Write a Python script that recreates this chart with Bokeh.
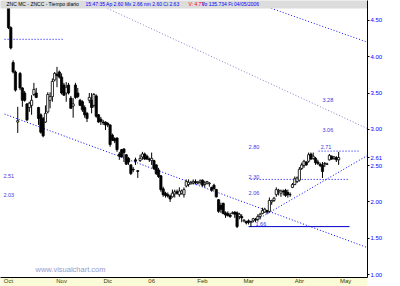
from bokeh.plotting import figure
from bokeh.models import (Range1d, FixedTicker, Label, NumeralTickFormatter,
                          ColumnDataSource)
from bokeh.embed import file_html
from bokeh.resources import INLINE

# ---- daily OHLC (ZNC MC, Oct 2005 - May 2006) ----
open_ = [
    4.70, 4.40, 3.92, 3.79, 3.10, 3.77, 3.57, 3.50, 3.35, 3.30,
    3.33, 3.48, 3.50, 3.30, 3.20, 3.15, 3.10, 3.24, 3.40, 3.45,
    3.68, 3.76, 3.79, 3.72, 3.61, 3.50, 3.61, 3.43, 3.32, 3.61,
    3.50, 3.40, 3.38, 3.30, 3.22, 3.40, 3.40, 3.33, 3.46, 3.20,
    3.14, 3.10, 3.10, 3.08, 3.06, 2.92, 2.87, 2.88, 2.66, 2.72,
    2.73, 2.65, 2.60, 2.51, 2.45, 2.58, 2.43, 2.57, 2.62, 2.66,
    2.63, 2.59, 2.57, 2.57, 2.51, 2.44, 2.36, 2.18, 2.12, 2.10,
    2.08, 2.07, 2.11, 2.14, 2.10, 2.12, 2.10, 2.22, 2.24, 2.25,
    2.26, 2.28, 2.26, 2.27, 2.30, 2.24, 2.26, 2.25, 2.20, 2.23,
    2.17, 2.03, 1.95, 1.98, 1.85, 1.84, 1.82, 1.84, 1.86, 1.85,
    1.80, 1.80, 1.74, 1.73, 1.74, 1.72, 1.74, 1.76, 1.76, 1.80,
    1.84, 1.86, 1.88, 1.87, 2.00, 2.02, 2.10, 2.15, 2.12, 2.15,
    2.16, 2.13, 2.10, 2.20, 2.24, 2.28, 2.30, 2.46, 2.50, 2.55,
    2.56, 2.66, 2.60, 2.60, 2.55, 2.52, 2.51, 2.52, 2.52, 2.58,
    2.63, 2.60, 2.61, 2.58]
high = [
    4.72, 4.42, 3.95, 3.81, 3.31, 3.79, 3.58, 3.53, 3.36, 3.38,
    3.47, 3.64, 3.57, 3.31, 3.22, 3.17, 3.33, 3.51, 3.51, 3.70,
    3.79, 3.86, 3.81, 3.77, 3.64, 3.65, 3.64, 3.46, 3.43, 3.64,
    3.57, 3.42, 3.40, 3.33, 3.24, 3.50, 3.50, 3.50, 3.48, 3.21,
    3.17, 3.13, 3.11, 3.10, 3.07, 2.94, 2.89, 2.89, 2.69, 2.73,
    2.74, 2.66, 2.62, 2.52, 2.48, 2.61, 2.44, 2.65, 2.69, 2.68,
    2.65, 2.61, 2.68, 2.58, 2.52, 2.47, 2.37, 2.21, 2.14, 2.13,
    2.10, 2.17, 2.17, 2.17, 2.20, 2.17, 2.20, 2.31, 2.31, 2.29,
    2.31, 2.31, 2.29, 2.31, 2.31, 2.29, 2.29, 2.27, 2.21, 2.25,
    2.18, 2.04, 1.99, 1.99, 1.87, 1.87, 1.85, 1.87, 1.87, 1.87,
    1.85, 1.83, 1.76, 1.74, 1.76, 1.74, 1.78, 1.78, 1.83, 1.85,
    1.92, 1.92, 1.89, 2.06, 2.03, 2.07, 2.20, 2.18, 2.17, 2.17,
    2.18, 2.17, 2.13, 2.26, 2.35, 2.35, 2.48, 2.54, 2.58, 2.56,
    2.68, 2.68, 2.68, 2.62, 2.58, 2.54, 2.55, 2.55, 2.54, 2.66,
    2.64, 2.63, 2.63, 2.69]
low = [
    4.38, 4.10, 3.77, 3.52, 2.95, 3.54, 3.31, 3.38, 3.11, 3.24,
    3.20, 3.46, 3.43, 3.06, 2.94, 2.89, 3.09, 3.22, 3.29, 3.38,
    3.66, 3.58, 3.70, 3.48, 3.46, 3.38, 3.48, 3.28, 3.16, 3.42,
    3.43, 3.32, 3.24, 3.16, 3.10, 3.36, 3.22, 3.30, 3.16, 3.09,
    3.06, 3.06, 2.99, 3.03, 2.76, 2.84, 2.81, 2.69, 2.58, 2.61,
    2.55, 2.51, 2.51, 2.37, 2.41, 2.51, 2.33, 2.55, 2.58, 2.58,
    2.58, 2.55, 2.51, 2.44, 2.37, 2.33, 2.14, 2.07, 2.06, 2.06,
    2.00, 2.06, 2.06, 2.10, 2.07, 2.10, 2.06, 2.20, 2.21, 2.24,
    2.24, 2.24, 2.24, 2.24, 2.21, 2.20, 2.24, 2.21, 2.14, 2.17,
    2.06, 1.85, 1.85, 1.83, 1.78, 1.80, 1.78, 1.83, 1.78, 1.64,
    1.76, 1.72, 1.72, 1.69, 1.69, 1.66, 1.72, 1.72, 1.73, 1.76,
    1.83, 1.85, 1.83, 1.85, 1.96, 2.00, 2.07, 2.09, 2.07, 2.09,
    2.07, 2.06, 2.07, 2.19, 2.23, 2.26, 2.28, 2.44, 2.47, 2.50,
    2.54, 2.58, 2.58, 2.51, 2.51, 2.48, 2.33, 2.48, 2.51, 2.57,
    2.58, 2.58, 2.55, 2.51]
close = [
    4.40, 4.12, 3.79, 3.54, 3.12, 3.57, 3.40, 3.40, 3.13, 3.36,
    3.40, 3.55, 3.44, 3.15, 2.96, 2.91, 3.22, 3.48, 3.45, 3.66,
    3.77, 3.74, 3.72, 3.50, 3.47, 3.58, 3.50, 3.29, 3.35, 3.44,
    3.45, 3.33, 3.27, 3.20, 3.15, 3.44, 3.30, 3.48, 3.18, 3.10,
    3.11, 3.09, 3.06, 3.06, 2.79, 2.85, 2.84, 2.72, 2.63, 2.62,
    2.68, 2.52, 2.55, 2.39, 2.44, 2.56, 2.42, 2.60, 2.66, 2.59,
    2.59, 2.58, 2.60, 2.46, 2.39, 2.35, 2.17, 2.10, 2.09, 2.08,
    2.04, 2.12, 2.14, 2.12, 2.15, 2.15, 2.17, 2.28, 2.27, 2.27,
    2.28, 2.26, 2.27, 2.29, 2.23, 2.26, 2.28, 2.26, 2.16, 2.18,
    2.07, 1.87, 1.90, 1.84, 1.82, 1.81, 1.80, 1.85, 1.83, 1.66,
    1.83, 1.78, 1.75, 1.71, 1.72, 1.73, 1.77, 1.75, 1.80, 1.83,
    1.88, 1.90, 1.86, 2.02, 2.02, 2.05, 2.17, 2.16, 2.15, 2.14,
    2.09, 2.10, 2.10, 2.24, 2.32, 2.33, 2.45, 2.51, 2.56, 2.51,
    2.65, 2.59, 2.63, 2.54, 2.53, 2.50, 2.42, 2.53, 2.52, 2.64,
    2.59, 2.62, 2.58, 2.61]

# ---- axes ----
month_labels = ["Oct", "Nov", "Dic", "06", "Feb", "Mar", "Abr", "May"]
month_label_pos = [0, 23, 43, 62, 84, 104, 126, 146]
price_ticks = [1.0, 1.5, 2.0, 2.5, 3.0, 3.5, 4.0, 4.5]
last_price = 2.61

# ---- drawn trend lines / levels (bar index, price) ----
trend_x0 = [-1.7, 42.9, 112.6, -1.7, 105.7, 104.9, 134.3]
trend_y0 = [4.24, 4.665, 4.68, 3.21, 1.72, 2.31, 2.70]
trend_x1 = [23.8, 155.5, 155.5, 155.5, 155.5, 147.3, 151.6]
trend_y1 = [4.24, 3.01, 4.20, 1.37, 2.64, 2.31, 2.70]
trend_color = ["#0000ff", "#8080c8", "#1515ff", "#0000ff", "#0000ff", "#0000ff", "#0000ff"]
support_x0, support_x1, support_y = 104.0, 147.7, 1.66

level_text = ["3.28", "3.06", "2.80", "2.71", "2.30", "2.06", "1.66", "2.51", "2.03"]
level_x = [136.0, 136.0, 104.0, 135.2, 104.0, 104.0, 107.0, -2.2, -2.2]
level_y = [3.40, 2.99, 2.76, 2.76, 2.35, 2.12, 1.70, 2.36, 2.09]

# header (window caption)
header_parts = ["ZNC MC - ZNCC - Tiempo diario",
                "15:47:35 Ap 2.60 Mx 2.66 mn 2.60 Ci 2.63",
                "V: 4.77",
                "Vo 135.734 Ft 04/05/2006"]
header_colors = ["#000000", "#0000ff", "#ff0000", "#0000ff"]
header_x = [6, 85, 188, 201]

idx = list(range(len(close)))
top = [max(o, c) for o, c in zip(open_, close)]
bot = [min(o, c) for o, c in zip(open_, close)]
fill = ["#000000" if c < o else "#ffffff" for o, c in zip(open_, close)]
src = ColumnDataSource(dict(x=idx, high=high, low=low, top=top, bottom=bot, fill=fill))

Y_TOP = 4.7744       # price at canvas top (caption bar sits inside the frame)
Y_CHART_TOP = 4.665  # price at bottom edge of the caption bar

p = figure(width=400, height=286, output_backend="svg", toolbar_location=None,
           x_range=Range1d(-3.47, 155.5), y_range=Range1d(0.959, Y_TOP),
           y_axis_location="right", min_border_left=0, min_border_right=33,
           min_border_top=0, min_border_bottom=8,
           background_fill_color="white", border_fill_color="white")
p.title = None
p.outline_line_color = None
p.grid.visible = False

# trend lines
p.segment(x0=trend_x0, y0=trend_y0, x1=trend_x1, y1=trend_y1,
          line_color=trend_color, line_width=1, line_dash="1 2")
p.segment(x0=[support_x0], y0=[support_y], x1=[support_x1], y1=[support_y],
          line_color="#0000cc", line_width=1)

# candles
p.segment(x0="x", y0="low", x1="x", y1="high", source=src, line_color="black", line_width=1)
p.vbar(x="x", top="top", bottom="bottom", width=0.95, source=src,
       fill_color="fill", line_color="black", line_width=0.8)

# level labels
p.text(x=level_x, y=level_y, text=level_text, text_font_size="5.5px",
       text_color="#3b3be0", text_baseline="middle", text_align="left")

# caption bar (drawn over the top of the chart area)
p.quad(left=[-20], right=[200], bottom=[Y_CHART_TOP], top=[5.2],
       fill_color="#dcdcdc", line_color=None)
for t, hx, col in zip(header_parts, header_x, header_colors):
    p.add_layout(Label(x=hx, x_units="screen", y=(Y_TOP + Y_CHART_TOP) / 2, y_units="data",
                       text=t, text_font_size="5px", text_font="Liberation Sans",
                       text_color=col, text_baseline="middle", level="overlay"))

# axes
p.yaxis.ticker = FixedTicker(ticks=price_ticks + [last_price], minor_ticks=[])
p.yaxis.formatter = NumeralTickFormatter(format="0.00")
p.yaxis.major_label_text_color = "#0000ff"
p.yaxis.major_label_text_font_size = "6px"
p.yaxis.major_label_text_font = "Liberation Sans"
p.yaxis.major_tick_in = 0
p.yaxis.major_tick_out = 2
p.yaxis.major_label_standoff = 1
p.yaxis.axis_line_color = "black"

p.xaxis.ticker = FixedTicker(ticks=month_label_pos, minor_ticks=[])
p.xaxis.major_label_overrides = dict(zip(month_label_pos, month_labels))
p.xaxis.major_tick_in = 0
p.xaxis.major_tick_out = 0
p.xaxis.major_label_text_font_size = "6px"
p.xaxis.major_label_text_font = "Liberation Sans"
p.xaxis.major_label_text_color = "#404000"
p.xaxis.major_label_standoff = 0
p.xaxis.axis_line_color = "black"
p.xaxis.background_fill_color = "#fbfbd8"

# watermark
p.add_layout(Label(x=35, x_units="screen", y=1.07, y_units="data", text="www.visualchart.com",
                   text_font_size="7.5px", text_font="Liberation Sans",
                   text_color="#9a9ac8", text_baseline="middle"))

open("out.html", "w").write(file_html(p, INLINE))
